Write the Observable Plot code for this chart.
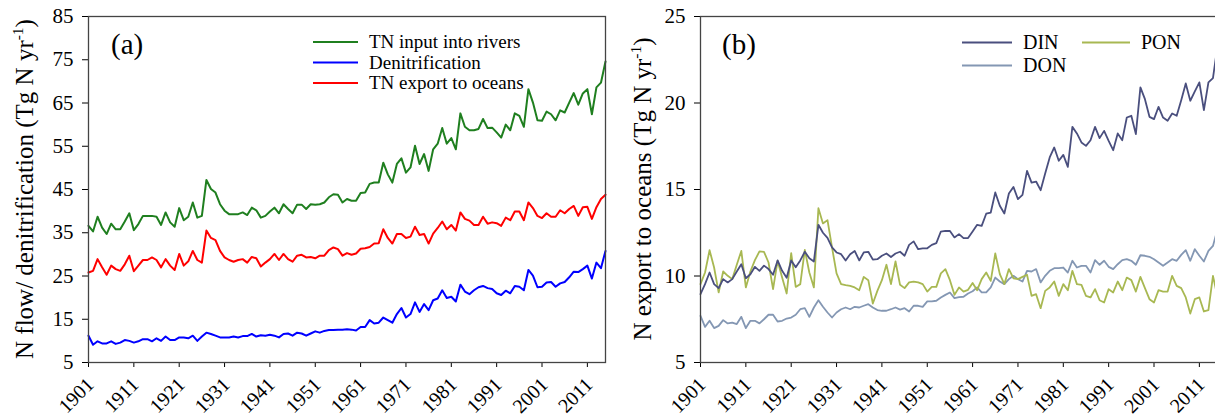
<!DOCTYPE html>
<html><head><meta charset="utf-8">
<script src="https://cdn.jsdelivr.net/npm/d3@7"></script>
<script src="https://cdn.jsdelivr.net/npm/@observablehq/plot@0.6"></script>
<style>
html,body{margin:0;padding:0;background:#fff;overflow:hidden;width:1215px;height:420px;font-family:"Liberation Serif","Times New Roman",Times,"DejaVu Serif",serif;}
#wrap{position:relative;width:1215px;height:420px;overflow:hidden;background:#fff;}
#pa{position:absolute;left:0;top:0;width:610px;height:420px;}
#pb{position:absolute;left:610px;top:0;width:607px;height:420px;}
.yl{position:absolute;white-space:nowrap;font-size:20px;line-height:20px;color:#000;
    transform-origin:100% 50%;transform:translate(-100%,-50%) rotate(-45deg);}
</style></head><body><div id="wrap"><div id="pa"></div><div id="pb"></div></div>
<script>
// ---- categories ----
const years = d3.range(1901, 2016); // 1901..2015
const xTicks = [1901, 1911, 1921, 1931, 1941, 1951, 1961, 1971, 1981, 1991, 2001, 2011];
const yTicksA = [5, 15, 25, 35, 45, 55, 65, 75, 85];
const yTicksB = [5, 10, 15, 20, 25];

// ---- panel (a) series, Tg N / yr ----
const tnInput = [
  36.6, 35.3, 38.7, 36.2, 34.7, 37.1, 35.8, 35.8, 37.6, 39.5,
  35.6, 37.0, 38.9, 38.9, 38.9, 38.7, 36.8, 39.7, 37.4, 36.4,
  40.7, 37.9, 38.7, 42.0, 38.5, 38.9, 47.2, 45.1, 44.3, 41.6,
  40.1, 39.3, 39.3, 39.3, 39.7, 39.1, 40.8, 40.2, 38.5, 38.9,
  39.9, 40.8, 39.5, 41.6, 40.5, 39.5, 41.5, 41.5, 40.5, 41.6,
  41.5, 41.6, 42.0, 43.2, 43.9, 43.8, 42.0, 42.8, 42.4, 42.4,
  44.2, 44.3, 46.3, 46.6, 46.6, 51.2, 48.5, 46.6, 50.9, 52.2,
  48.9, 50.1, 55.1, 50.9, 53.2, 49.3, 54.3, 55.6, 59.2, 55.6,
  56.9, 54.3, 62.6, 59.5, 58.7, 58.7, 59.0, 61.3, 59.2, 59.3,
  58.2, 57.0, 60.0, 58.7, 62.6, 62.0, 59.5, 68.2, 65.1, 61.0,
  60.9, 63.0, 62.4, 61.0, 63.3, 62.8, 65.1, 67.3, 64.6, 67.2,
  68.2, 62.4, 68.6, 69.7, 74.6
];
const denitrification = [
  11.2, 9.1, 9.9, 9.4, 9.4, 9.9, 9.3, 9.6, 10.2, 10.0,
  9.6, 9.9, 10.4, 10.4, 9.9, 10.6, 10.0, 11.0, 10.2, 10.2,
  10.8, 10.8, 10.6, 11.2, 10.0, 11.0, 11.9, 11.6, 11.2, 10.8,
  10.8, 10.8, 11.0, 10.8, 11.1, 11.1, 11.6, 11.0, 11.3, 11.2,
  11.4, 11.2, 10.8, 11.6, 11.7, 11.2, 11.9, 11.7, 11.2, 11.7,
  12.2, 11.9, 12.3, 12.5, 12.5, 12.6, 12.6, 12.7, 12.6, 12.4,
  13.2, 13.2, 14.8, 14.0, 14.2, 15.4, 14.8, 14.2, 16.2, 17.6,
  15.4, 16.2, 18.9, 16.7, 18.5, 17.1, 19.4, 19.8, 21.7, 19.9,
  20.2, 19.1, 23.0, 21.4, 20.8, 21.7, 22.4, 22.7, 22.2, 22.0,
  21.0, 20.6, 21.6, 21.0, 22.7, 22.5, 21.7, 26.4, 25.1, 22.4,
  22.5, 23.5, 23.6, 22.5, 23.3, 23.6, 24.7, 26.0, 25.9, 26.6,
  27.4, 24.4, 28.1, 26.8, 30.8
];
const tnExport = [
  25.8, 26.2, 28.9, 27.0, 25.3, 27.4, 26.6, 26.2, 27.7, 29.7,
  26.1, 27.4, 28.7, 28.7, 29.3, 28.7, 27.0, 28.9, 27.4, 26.4,
  30.1, 27.4, 28.4, 30.8, 28.7, 28.1, 35.5, 33.8, 33.3, 30.8,
  29.3, 28.7, 28.3, 28.7, 28.9, 28.1, 29.4, 29.1, 27.2, 28.1,
  28.9, 30.1, 28.7, 30.1, 28.9, 28.3, 29.7, 29.9, 29.3, 29.4,
  29.1, 29.7, 29.7, 31.0, 31.6, 31.2, 29.7, 30.3, 29.9, 30.2,
  31.3, 31.4, 31.7, 32.5, 32.6, 35.8, 33.8, 32.5, 34.7, 34.7,
  33.8, 34.1, 36.4, 34.5, 34.7, 32.5, 34.8, 36.1, 37.6, 35.8,
  36.8, 35.5, 39.7, 38.2, 37.8, 36.8, 36.8, 38.7, 37.1, 37.4,
  37.2, 36.6, 38.5, 37.9, 39.9, 39.9, 37.9, 42.0, 40.7, 38.9,
  38.4, 39.5, 38.7, 38.7, 40.2, 39.5, 40.5, 41.2, 38.9, 40.9,
  41.0, 38.2, 40.9, 42.8, 43.8
];

// ---- panel (b) series, Tg N / yr ----
const din = [
  8.95, 9.53, 10.2, 9.53, 9.3, 9.82, 9.63, 9.82, 10.26, 10.68,
  9.87, 10.1, 10.53, 10.3, 10.6, 10.4, 10.07, 10.9, 10.3, 9.9,
  10.9, 10.5, 10.9, 11.4, 11.03, 10.84, 12.96, 12.5, 12.2, 11.65,
  11.36, 11.26, 10.9, 11.26, 11.45, 10.9, 11.36, 11.4, 10.95, 10.97,
  11.17, 11.3, 11.1, 11.3, 11.4, 11.17, 11.8, 12.0, 11.55, 11.6,
  11.6, 11.8, 11.9, 12.57, 12.61, 12.6, 12.23, 12.42, 12.19, 12.19,
  12.57, 12.96, 12.9, 13.6, 13.67, 14.83, 14.06, 13.61, 14.77, 15.15,
  14.44, 14.69, 16.08, 15.4, 15.46, 14.96, 15.93, 16.85, 17.43, 16.66,
  17.0, 16.31, 18.62, 18.24, 17.72, 17.52, 17.85, 18.62, 17.97, 18.39,
  17.81, 17.27, 18.24, 17.85, 19.16, 19.26, 18.2, 20.9, 20.22, 19.2,
  19.07, 19.78, 19.16, 18.97, 19.39, 19.26, 20.16, 21.13, 20.13, 20.67,
  21.19, 19.59, 21.19, 21.44, 23.3
];
const don = [
  7.7, 7.06, 7.41, 6.99, 7.12, 7.45, 7.26, 7.31, 7.22, 7.64,
  6.99, 7.41, 7.41, 7.26, 7.5, 7.76, 7.76, 7.37, 7.41, 7.54,
  7.6, 7.76, 8.08, 8.14, 7.64, 8.18, 8.6, 8.22, 7.89, 7.6,
  7.89, 8.08, 8.18, 8.08, 8.22, 8.18, 8.28, 8.37, 8.18, 8.03,
  7.99, 7.99, 8.08, 8.18, 8.06, 8.14, 7.95, 8.28, 8.28, 8.22,
  8.53, 8.53, 8.57, 8.76, 8.91, 9.05, 8.72, 8.78, 8.8, 8.99,
  9.12, 9.34, 9.05, 9.05, 9.34, 9.91, 9.68, 9.53, 9.82, 10.01,
  9.82, 9.68, 10.3, 10.26, 10.4, 9.63, 10.01, 10.3, 10.45, 10.45,
  10.49, 10.2, 10.88, 10.49, 10.59, 10.59, 10.2, 10.92, 10.65, 10.88,
  10.53, 10.4, 10.68, 10.92, 10.97, 10.88, 10.65, 11.2, 11.17, 11.11,
  10.97, 10.78, 10.59, 10.78, 10.97, 10.88, 11.22, 11.49, 10.88, 11.55,
  11.17, 10.84, 11.45, 11.74, 12.7
];
const pon = [
  9.53, 10.2, 11.49, 10.49, 9.05, 10.26, 10.01, 9.82, 10.65, 11.45,
  9.34, 10.26, 10.92, 11.42, 11.4, 10.78, 9.24, 10.88, 9.91, 8.99,
  11.32, 9.37, 9.53, 11.51, 10.2, 9.34, 13.92, 13.04, 13.23, 11.65,
  10.15, 9.53, 9.47, 9.43, 9.34, 9.18, 9.95, 9.76, 8.41, 9.14,
  9.76, 10.65, 9.53, 10.84, 9.49, 9.3, 9.63, 9.68, 9.63, 9.53,
  9.1, 9.37, 9.37, 10.15, 10.4, 9.76, 8.91, 9.34, 9.1, 9.2,
  9.6, 9.18, 9.82, 10.2, 9.72, 11.3, 10.11, 9.53, 10.4, 9.87,
  9.82, 9.95, 10.07, 8.85, 8.95, 8.14, 9.14, 9.34, 9.68, 8.85,
  9.53, 9.18, 10.3, 9.53, 9.49, 8.85, 8.76, 9.24, 8.6, 8.47,
  9.24, 9.05, 9.68, 9.18, 9.91, 9.76, 9.1, 9.95, 9.3, 8.66,
  8.47, 9.18, 9.1, 9.1, 10.01, 9.43, 9.3, 8.76, 7.83, 8.66,
  8.76, 7.95, 8.03, 10.01, 8.8
];

// ---- series names & colours ----
const namesA = ["TN input into rivers", "Denitrification", "TN export to oceans"];
const colorsA = ["#1f7f1f", "#0000ff", "#ff0000"];
const namesB = ["DIN", "DON", "PON"];
const colorsB = ["#4a4f7e", "#8497b3", "#a8b852"];

const FONT = "Liberation Serif, Times New Roman, Times, DejaVu Serif, serif";

function seriesLine(values, color, w) {
  return Plot.line(values, {x: (d, i) => years[i], y: d => d, stroke: color, strokeWidth: w, strokeLinejoin: "round"});
}

function addTitle(svg, x, cy, main, size) {
  const t = d3.select(svg).append("text")
    .attr("transform", `translate(${x},${cy}) rotate(-90)`)
    .attr("text-anchor", "middle").attr("font-family", FONT)
    .attr("font-size", size).attr("fill", "#000");
  t.append("tspan").text(main);
  t.append("tspan").attr("dy", -10).attr("font-size", size * 0.62).text("-1");
  t.append("tspan").attr("dy", 10).text(")");
}

function addLegend(svg, items, size) {
  const g = d3.select(svg).append("g").attr("font-family", FONT).attr("font-size", size)
    .attr("fill", "#000").attr("text-anchor", "start");
  for (const it of items) {
    g.append("line").attr("x1", it.x).attr("x2", it.x + it.len).attr("y1", it.y).attr("y2", it.y)
      .attr("stroke", it.color).attr("stroke-width", it.w);
    g.append("text").attr("x", it.x + it.len + 11).attr("y", it.y).attr("dy", "0.34em").text(it.name);
  }
}

function panelLabel(svg, x, y, txt) {
  d3.select(svg).append("text").attr("x", x).attr("y", y).attr("font-family", FONT)
    .attr("text-anchor", "start").attr("font-size", 29).attr("fill", "#000").text(txt);
}

function makePanel(width, marginLeft, marginRight, yDomain, yTicks, lines) {
  return Plot.plot({
    width, height: 420,
    marginLeft, marginRight, marginTop: 16, marginBottom: 58,
    style: {fontFamily: FONT, fontSize: "21px", color: "#000", background: "transparent", overflow: "visible"},
    x: {type: "linear", domain: [1901, 2015], ticks: xTicks, tickFormat: () => "", tickSize: 5, label: null},
    y: {type: "linear", domain: yDomain, ticks: yTicks, tickSize: 6, tickPadding: 9, label: null},
    marks: [
      ...lines,
      Plot.frame({stroke: "#444", strokeWidth: 1.3})
    ]
  });
}

// year labels as HTML, rotated by CSS; positions from the plot's own x scale
function htmlYearLabels(plot, container) {
  const sx = plot.scale("x");
  for (const yr of xTicks) {
    const d = document.createElement("div");
    d.className = "yl";
    d.textContent = String(yr);
    d.style.left = (sx.apply(yr) + 2) + "px";
    d.style.top = "381px";
    container.appendChild(d);
  }
}
// year labels on 45-degree text paths; positions from the plot's own x scale
function pathYearLabels(plot, id) {
  const sx = plot.scale("x");
  const svg = d3.select(plot);
  const defs = svg.append("defs");
  const g = svg.append("g").attr("font-family", FONT).attr("font-size", 20).attr("fill", "#000");
  xTicks.forEach((yr, i) => {
    const ax = sx.apply(yr) + 2, ay = 381, L = 70;
    defs.append("path").attr("id", `${id}${i}`)
      .attr("d", `M${ax - L * 0.7071},${ay + L * 0.7071}L${ax},${ay}`);
    g.append("text").attr("dy", "0.35em")
      .append("textPath").attr("href", `#${id}${i}`).attr("startOffset", "100%")
      .attr("text-anchor", "end").text(String(yr));
  });
}

// ---- Panel (a) ----
const plotA = makePanel(610, 88, 5, [5, 85], yTicksA, [
  seriesLine(denitrification, colorsA[1], 2),
  seriesLine(tnExport, colorsA[2], 2),
  seriesLine(tnInput, colorsA[0], 2)
]);
document.getElementById("pa").appendChild(plotA);
addTitle(plotA, 33, 189, "N flow/ denitrification (Tg N yr", 25);
panelLabel(plotA, 111, 54, "(a)");
addLegend(plotA, [
  {x: 313, len: 45, y: 42, color: colorsA[0], w: 2.2, name: namesA[0]},
  {x: 313, len: 45, y: 62.5, color: colorsA[1], w: 2.2, name: namesA[1]},
  {x: 313, len: 45, y: 83, color: colorsA[2], w: 2.2, name: namesA[2]}
], 19);

// ---- Panel (b) ----
const plotB = makePanel(607, 90, 0, [5, 25], yTicksB, [
  seriesLine(don, colorsB[1], 1.8),
  seriesLine(pon, colorsB[2], 1.8),
  seriesLine(din, colorsB[0], 1.8)
]);
document.getElementById("pb").appendChild(plotB);
addTitle(plotB, 41, 189, "N export to oceans (Tg N yr", 25);
panelLabel(plotB, 112, 54, "(b)");
addLegend(plotB, [
  {x: 352, len: 50, y: 42.5, color: colorsB[0], w: 2, name: namesB[0]},
  {x: 352, len: 50, y: 65.5, color: colorsB[1], w: 2, name: namesB[1]},
  {x: 472, len: 48, y: 42.5, color: colorsB[2], w: 2, name: namesB[2]}
], 20);

d3.selectAll("svg text").attr("font-family", FONT);
htmlYearLabels(plotA, document.getElementById("pa"));
pathYearLabels(plotB, "yrb");
</script>
</body></html>
